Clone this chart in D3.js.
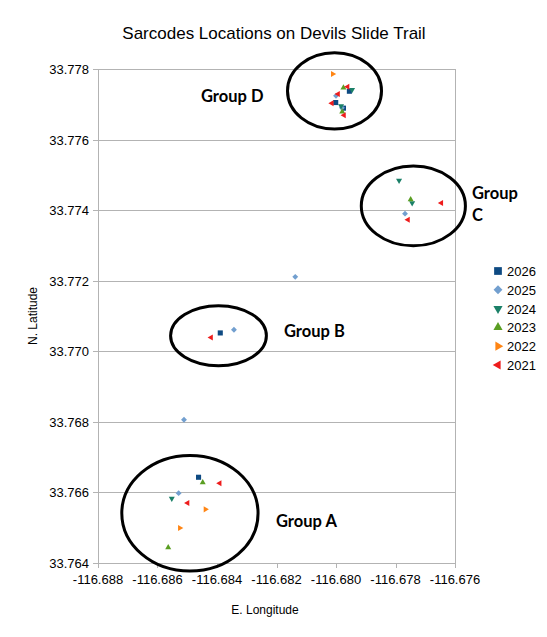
<!DOCTYPE html>
<html lang="en">
<head>
<meta charset="utf-8" />
<title>Sarcodes Locations on Devils Slide Trail</title>
<script src="https://d3js.org/d3.v7.min.js"></script>
<style>
  body { margin: 0; background: #fff; }
  text { font-family: "Liberation Sans", Arial, sans-serif; fill: #000; }
  .grp { font-family: Lato, "Open Sans", sans-serif; font-weight: bold; font-size: 16.5px; }
</style>
</head>
<body>
<svg id="chart" width="547" height="637"></svg>
<script>
// marker positions, [longitude, latitude]
const years = ["2026", "2025", "2024", "2023", "2022", "2021"];
const s2026 = [[-116.67955, 33.77737], [-116.68001, 33.77705], [-116.67975, 33.77689],
               [-116.68462, 33.76643], [-116.68389, 33.77052]];
const s2025 = [[-116.68000, 33.77724], [-116.67980, 33.77690], [-116.67768, 33.77390],
               [-116.68529, 33.76598], [-116.68343, 33.77061], [-116.68137, 33.77211],
               [-116.68511, 33.76806]];
const s2024 = [[-116.67946, 33.77741], [-116.67983, 33.77695], [-116.67788, 33.77484],
               [-116.67744, 33.77420], [-116.68552, 33.76583]];
const s2023 = [[-116.67975, 33.77747], [-116.67979, 33.77679], [-116.67749, 33.77430],
               [-116.68448, 33.76628], [-116.68564, 33.76444]];
const s2022 = [[-116.68011, 33.77786], [-116.68439, 33.76552], [-116.68525, 33.76499]];
const s2021 = [[-116.67961, 33.77750], [-116.67993, 33.77729], [-116.68014, 33.77703],
               [-116.67973, 33.77669], [-116.67646, 33.77420], [-116.67758, 33.77373],
               [-116.68391, 33.76626], [-116.68499, 33.76570], [-116.68420, 33.77039]];
const seriesData = [s2026, s2025, s2024, s2023, s2022, s2021];

const xTicks = [-116.688, -116.686, -116.684, -116.682, -116.680, -116.678, -116.676];
const yTicks = [33.764, 33.766, 33.768, 33.770, 33.772, 33.774, 33.776, 33.778];

// hand-drawn group circles: centre, radii (in degrees)
const groupNames = ["Group D", "Group C", "Group B", "Group A"];
const groupCentres = [[-116.68005, 33.77738], [-116.67740, 33.77412], [-116.68395, 33.77044], [-116.68491, 33.76541]];
const groupRadii = [[0.00158, 0.00108], [0.00175, 0.00113], [0.00161, 0.00085], [0.00229, 0.00164]];

const colors = ["#0e4a82", "#729fcf", "#1b8068", "#5a9e22", "#ff8514", "#ee1c1c"];
const shapes = [
  { type: d3.symbolSquare, rot: 0 },
  { type: d3.symbolDiamond2, rot: 0 },
  { type: d3.symbolTriangle2, rot: 180 },
  { type: d3.symbolTriangle2, rot: 0 },
  { type: d3.symbolTriangle2, rot: 90 },
  { type: d3.symbolTriangle2, rot: -90 }
];

const svg = d3.select("#chart");
const x = d3.scaleLinear().domain([-116.688, -116.676]).range([98, 455]);
const y = d3.scaleLinear().domain([33.764, 33.778]).range([563, 69]);

svg.append("rect").attr("width", 547).attr("height", 637).attr("fill", "#fff");

// grid
svg.append("g").selectAll("line").data(yTicks).enter().append("line")
  .attr("x1", 93).attr("x2", 455)
  .attr("y1", d => Math.round(y(d)) + 0.5).attr("y2", d => Math.round(y(d)) + 0.5)
  .attr("stroke", "#b3b3b3");
svg.append("g").selectAll("line").data(xTicks).enter().append("line")
  .attr("x1", d => Math.round(x(d)) + 0.5).attr("x2", d => Math.round(x(d)) + 0.5)
  .attr("y1", 563).attr("y2", 568)
  .attr("stroke", "#b3b3b3");
svg.append("line").attr("x1", 98.5).attr("x2", 98.5).attr("y1", 69).attr("y2", 568).attr("stroke", "#b3b3b3");
svg.append("line").attr("x1", 455.5).attr("x2", 455.5).attr("y1", 69).attr("y2", 568).attr("stroke", "#b3b3b3");

// tick labels
const fmt = d3.format(".3f");
svg.append("g").selectAll("text").data(xTicks).enter().append("text")
  .attr("x", d => x(d)).attr("y", 584)
  .attr("text-anchor", "middle").attr("font-size", 13)
  .text(d => fmt(d).replace("−", "-"));
svg.append("g").selectAll("text").data(yTicks).enter().append("text")
  .attr("x", 89).attr("y", d => y(d) + 5)
  .attr("text-anchor", "end").attr("font-size", 13)
  .text(d => fmt(d));

// titles
svg.append("text").attr("x", 274).attr("y", 39).attr("text-anchor", "middle")
  .attr("font-size", 17).text("Sarcodes Locations on Devils Slide Trail");
svg.append("text").attr("x", 265).attr("y", 614).attr("text-anchor", "middle")
  .attr("font-size", 12).text("E. Longitude");
svg.append("text").attr("transform", "translate(37,316) rotate(-90)").attr("text-anchor", "middle")
  .attr("font-size", 12).text("N. Latitude");

// group circles
svg.append("g").selectAll("ellipse").data(groupCentres).enter().append("ellipse")
  .attr("cx", d => x(d[0])).attr("cy", d => y(d[1]))
  .attr("rx", (d, i) => x(d[0] + groupRadii[i][0]) - x(d[0]))
  .attr("ry", (d, i) => y(d[1]) - y(d[1] + groupRadii[i][1]))
  .attr("fill", "none").attr("stroke", "#000").attr("stroke-width", 3);

// markers
seriesData.forEach((pts, i) => {
  const sym = d3.symbol().type(shapes[i].type).size(i === 1 ? 22 : 26);
  svg.append("g").selectAll("path").data(pts).enter().append("path")
    .attr("d", sym)
    .attr("transform", d => `translate(${x(d[0])},${y(d[1])}) rotate(${shapes[i].rot})`)
    .attr("fill", colors[i]);
});

// group labels
svg.append("text").attr("class", "grp").attr("x", 201).attr("y", 102).text(groupNames[0]);
const gc = svg.append("text").attr("class", "grp").attr("x", 472).attr("y", 199);
gc.append("tspan").attr("x", 472).text("Group");
gc.append("tspan").attr("x", 472).attr("dy", 22).text("C");
svg.append("text").attr("class", "grp").attr("x", 284).attr("y", 337).text(groupNames[2]);
svg.append("text").attr("class", "grp").attr("x", 276).attr("y", 527).text(groupNames[3]);

// legend
const leg = svg.append("g").selectAll("g").data(years).enter().append("g")
  .attr("transform", (d, i) => `translate(498,${271 + i * 18.8})`);
leg.append("path")
  .attr("d", (d, i) => d3.symbol().type(shapes[i].type).size(i === 1 ? 50 : 60)())
  .attr("transform", (d, i) => `rotate(${shapes[i].rot})`)
  .attr("fill", (d, i) => colors[i]);
leg.append("text").attr("x", 9).attr("y", 5).attr("font-size", 13).text(d => d);
</script>
</body>
</html>
